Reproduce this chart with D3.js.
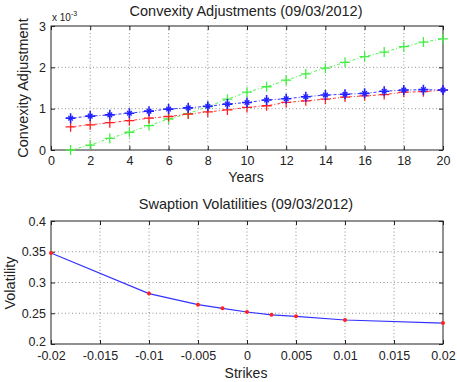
<!DOCTYPE html>
<html><head><meta charset="utf-8">
<script src="https://cdn.jsdelivr.net/npm/d3@7"></script>
<style>body{margin:0;background:#fff}svg{display:block}text{font-family:"Liberation Sans",Arial,sans-serif;fill:#222}</style>
</head><body><svg id="c" width="457" height="382"></svg>
<script>
const years = [1,2,3,4,5,6,7,8,9,10,11,12,13,14,15,16,17,18,19,20];
const blueCA = [0.77,0.82,0.85,0.89,0.94,0.99,1.02,1.06,1.11,1.15,1.21,1.24,1.29,1.33,1.35,1.37,1.42,1.45,1.46,1.45];
const redCA = [0.56,0.61,0.66,0.71,0.77,0.81,0.87,0.92,0.97,1.03,1.07,1.15,1.19,1.23,1.28,1.31,1.34,1.40,1.41,1.45];
const greenCA = [0.00,0.12,0.28,0.43,0.59,0.75,0.88,1.05,1.23,1.40,1.53,1.69,1.84,1.98,2.12,2.26,2.37,2.50,2.61,2.69];
const strikes = [-0.02,-0.01,-0.005,-0.0025,0,0.0025,0.005,0.01,0.02];
const vols = [0.348,0.282,0.264,0.258,0.252,0.2475,0.245,0.239,0.234];
const topXTicks = [0,2,4,6,8,10,12,14,16,18,20];
const topYTicks = [0,1,2,3];
const botXTicks = [-0.02,-0.015,-0.01,-0.005,0,0.005,0.01,0.015,0.02];
const botYTicks = [0.2,0.25,0.3,0.35,0.4];

const svg = d3.select("#c");
const L = 51, R = 443;
const FONT = '"Liberation Sans",Arial,sans-serif';

function frame(x, y, xt, yt, xfmt, yfmt, top, bot) {
  const g = svg.append("g");
  xt.forEach(v => { if (x(v) > L+1 && x(v) < R-1) g.append("line").attr("x1", x(v)).attr("x2", x(v)).attr("y1", top).attr("y2", bot).attr("stroke", "#777").attr("stroke-width", 0.8).attr("stroke-dasharray", "1,2.5"); });
  yt.forEach(v => { if (y(v) > top+1 && y(v) < bot-1) g.append("line").attr("x1", L).attr("x2", R).attr("y1", y(v)).attr("y2", y(v)).attr("stroke", "#777").attr("stroke-width", 0.8).attr("stroke-dasharray", "1,2.5"); });
  g.append("rect").attr("x", L).attr("y", top).attr("width", R-L).attr("height", bot-top).attr("fill", "none").attr("stroke", "#222").attr("stroke-width", 1);
  const gx = svg.append("g").attr("transform", `translate(0,${bot})`).call(d3.axisBottom(x).tickValues(xt).tickFormat(xfmt).tickSize(-4));
  const gx2 = svg.append("g").attr("transform", `translate(0,${top})`).call(d3.axisTop(x).tickValues(xt).tickFormat("").tickSize(-4));
  const gy = svg.append("g").attr("transform", `translate(${L},0)`).call(d3.axisLeft(y).tickValues(yt).tickFormat(yfmt).tickSize(-4).tickPadding(5));
  const gy2 = svg.append("g").attr("transform", `translate(${R},0)`).call(d3.axisRight(y).tickValues(yt).tickFormat("").tickSize(-4));
  [gx,gx2,gy,gy2].forEach(a => { a.select(".domain").remove(); a.selectAll("line").attr("stroke", "#222"); a.selectAll("text").attr("font-size", 12.5).attr("fill", "#222").attr("font-family", FONT); });
  gx.selectAll("text").attr("y", 6).attr("dy", "0.71em");
  return {gx, gy};
}

// ---- Top chart
const t1 = 26, b1 = 150;
const x1 = d3.scaleLinear().domain([0,20]).range([L, R]);
const y1 = d3.scaleLinear().domain([0,3]).range([b1, t1]);
frame(x1, y1, topXTicks, topYTicks, d3.format("d"), d3.format("d"), t1, b1);

function series(vals, color, marker) {
  const line = d3.line().x((d,i) => x1(years[i])).y(d => y1(d));
  svg.append("path").datum(vals).attr("d", line).attr("fill", "none").attr("stroke", color).attr("stroke-width", 0.9).attr("stroke-dasharray", "3,2,1,2");
  const g = svg.append("g");
  vals.forEach((v,i) => {
    const cx = x1(years[i]), cy = y1(v), s = 5;
    g.append("path").attr("d", `M${cx-s},${cy}H${cx+s}M${cx},${cy-s}V${cy+s}`).attr("stroke", color).attr("stroke-width", marker === "*" ? 1.6 : 1.3).attr("fill", "none");
    if (marker === "*") {
      const d = 2.3;
      g.append("path").attr("d", `M${cx-d},${cy-d}L${cx+d},${cy+d}M${cx-d},${cy+d}L${cx+d},${cy-d}`).attr("stroke", color).attr("stroke-width", 1.4);
    }
  });
}
series(greenCA, "#44ee44", "+");
series(redCA, "#ff2222", "+");
series(blueCA, "#2222ff", "*");

svg.append("text").attr("x", 246).attr("y", 16).attr("text-anchor", "middle").attr("font-size", 14.5).text("Convexity Adjustments (09/03/2012)");
svg.append("text").attr("x", 246).attr("y", 182).attr("text-anchor", "middle").attr("font-size", 14).text("Years");
svg.append("text").attr("transform", "translate(28,88) rotate(-90)").attr("text-anchor", "middle").attr("font-size", 14.5).text("Convexity Adjustment");
const ex = svg.append("text").attr("x", 52).attr("y", 21).attr("font-size", 10);
ex.append("tspan").text("x 10");
ex.append("tspan").attr("dy", -5).attr("font-size", 7).text("-3");

// ---- Bottom chart
const t2 = 221, b2 = 344;
const x2 = d3.scaleLinear().domain([-0.02,0.02]).range([L, R]);
const y2 = d3.scaleLinear().domain([0.2,0.4]).range([b2, t2]);
const f2 = frame(x2, y2, botXTicks, botYTicks, d => d === 0 ? "0" : String(+d.toFixed(3)), d => String(+d.toFixed(2)), t2, b2);
f2.gy.selectAll(".tick").filter(d => d === 0.2).select("text").attr("dy", "0.1em");
f2.gx.selectAll("text").attr("y", 7);

const line2 = d3.line().x((d,i) => x2(strikes[i])).y(d => y2(d));
svg.append("path").datum(vols).attr("d", line2).attr("fill", "none").attr("stroke", "#3333ff").attr("stroke-width", 1.2);
svg.append("g").selectAll("circle").data(vols).join("circle").attr("cx", (d,i) => x2(strikes[i])).attr("cy", d => y2(d)).attr("r", 2).attr("fill", "#ff2020");

svg.append("text").attr("x", 246).attr("y", 209).attr("text-anchor", "middle").attr("font-size", 14.5).text("Swaption Volatilities (09/03/2012)");
svg.append("text").attr("x", 246).attr("y", 378).attr("text-anchor", "middle").attr("font-size", 14).text("Strikes");
svg.append("text").attr("transform", "translate(15,283) rotate(-90)").attr("text-anchor", "middle").attr("font-size", 14.5).text("Volatility");
</script></body></html>
